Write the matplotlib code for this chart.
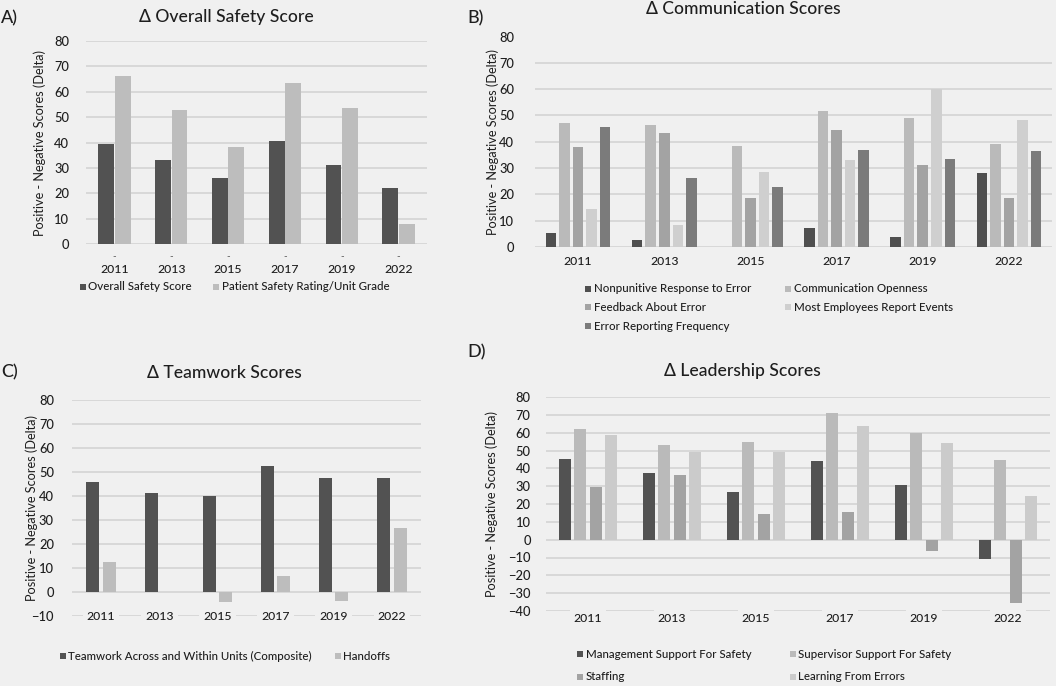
import numpy as np
import matplotlib
matplotlib.use('Agg')
import matplotlib.pyplot as plt
from matplotlib.patches import Rectangle
import matplotlib.transforms as mtransforms

plt.rcParams['font.family'] = ['Lato', 'DejaVu Sans']
plt.rcParams['font.weight'] = 'medium'

# Данные
years = ['2011', '2013', '2015', '2017', '2019', '2022']

overall_safety = [39.5, 33.3, 26.0, 40.7, 31.0, 21.9]
patient_rating = [66.4, 53.0, 38.3, 63.6, 53.4, 8.0]

nonpunitive = [5.3, 2.7, 0, 7.4, 3.7, 28.2]
comm_openness = [47.1, 46.3, 38.5, 51.8, 49.1, 39.2]
feedback_error = [38.1, 43.2, 18.8, 44.3, 31.0, 18.8]
most_report = [14.3, 8.5, 28.6, 32.9, 59.9, 48.3]
error_freq = [45.5, 26.3, 22.7, 36.8, 33.3, 36.4]

teamwork = [45.9, 41.4, 39.8, 52.7, 47.3, 47.7]
handoffs = [12.4, 0, -4.2, 6.7, -3.6, 26.6]

mgmt_support = [45.4, 37.4, 26.9, 44.3, 30.5, -10.7]
supervisor_support = [62.2, 52.9, 54.8, 71.0, 59.6, 44.9]
staffing = [29.3, 36.3, 14.2, 15.3, -6.2, -35.7]
learning_errors = [58.7, 49.0, 49.0, 63.9, 54.2, 24.7]

BG = '#f0f0f0'
GRID = '#d6d6d6'
TXT = '#1e1e1e'
YLABEL = 'Positive - Negative Scores (Delta)'
W, H = 1056, 686

fig = plt.figure(figsize=(W / 100, H / 100), dpi=100, facecolor=BG)


def px(x0, x1, y0, y1):
    # перевод пикселей в координаты фигуры
    return [x0 / W, 1 - y1 / H, (x1 - x0) / W, (y1 - y0) / H]


def draw_panel(rect, series, colors, ylim, yticks, width, pitch, year_y,
               tick_pad, ylab_x, label_bg=False):
    ax = fig.add_axes(rect)
    ax.set_facecolor(BG)
    x = np.arange(len(years))
    n = len(series)
    for i, (vals, c) in enumerate(zip(series, colors)):
        off = (i - (n - 1) / 2) * pitch
        ax.bar(x + off, vals, width=width, color=c, zorder=3)
    ax.set_xlim(-0.5, len(years) - 0.5)
    ax.set_ylim(*ylim)
    ax.set_yticks(yticks)
    ax.tick_params(axis='y', labelsize=9.3, length=0, pad=tick_pad, colors=TXT)
    ax.set_xticks([])
    for s in ax.spines.values():
        s.set_visible(False)
    for t in yticks:
        ax.axhline(t, color=GRID, lw=1.3, zorder=1)
    ax.set_ylabel(YLABEL, fontsize=9.2, color=TXT)
    # положение подписи оси в пикселях фигуры (правый край текста)
    bb = ax.get_position()
    ax.yaxis.set_label_coords(((ylab_x + 6) / W - bb.x0) / bb.width, 0.5)
    trans = mtransforms.blended_transform_factory(ax.transData, ax.transAxes)
    for xi, yr in zip(x, years):
        kw = {}
        if label_bg:
            kw['bbox'] = dict(facecolor=BG, edgecolor='none', pad=3)
        ax.text(xi, year_y, yr, transform=trans, ha='center', va='center',
                fontsize=8.8, color=TXT, zorder=5, **kw)
    return ax


def legend_items(names, colors, cols_x, rows_y):
    # легенда по строкам, как в Excel
    ncol = len(cols_x)
    for k, (name, c) in enumerate(zip(names, colors)):
        xx = cols_x[k % ncol]
        yy = rows_y[k // ncol]
        fig.patches.append(Rectangle((xx / W, 1 - (yy + 3) / H), 6 / W, 6 / H,
                                     transform=fig.transFigure, facecolor=c,
                                     edgecolor='none'))
        fig.text((xx + 8.5) / W, 1 - yy / H, name, ha='left', va='center',
                 fontsize=8.3, color=TXT)


def title(x, y, s):
    fig.text(x / W, 1 - y / H, s, ha='center', va='center', fontsize=12.6, color=TXT)


def tag(x, y, s):
    fig.text(x / W, 1 - y / H, s, ha='left', va='center', fontsize=13, color=TXT)


# A) Overall Safety
a_names = ['Overall Safety Score', 'Patient Safety Rating/Unit Grade']
a_colors = ['#525252', '#bdbdbd']
axA = draw_panel(px(86, 427, 41, 244), [overall_safety, patient_rating], a_colors,
                 (0, 80), range(0, 81, 10), 0.28, 0.29, -0.125, 12, 40)
for xi in range(len(years)):
    axA.text(xi, -5, '-', ha='center', va='center', fontsize=7, color='#555555')
legend_items(a_names, a_colors, [80, 213], [287])
title(226, 17, 'Δ Overall Safety Score')
tag(1, 18, 'A)')

# B) Communication
b_names = ['Nonpunitive Response to Error', 'Communication Openness', 'Feedback About Error',
           'Most Employees Report Events', 'Error Reporting Frequency']
b_colors = ['#4f4f4f', '#bababa', '#a3a3a3', '#cfcfcf', '#7b7b7b']
axB = draw_panel(px(535, 1052, 36.5, 247),
                 [nonpunitive, comm_openness, feedback_error, most_report, error_freq],
                 b_colors, (0, 80), range(0, 81, 10), 0.122, 0.157, -0.07, 15, 493)
legend_items(b_names, b_colors, [585, 785], [289, 307.5, 326])
title(743, 9, 'Δ Communication Scores')
tag(467, 18, 'B)')

# C) Teamwork
c_names = ['Teamwork Across and Within Units (Composite)', 'Handoffs']
c_colors = ['#525252', '#bdbdbd']
axC = draw_panel(px(72, 421, 400, 616), [teamwork, handoffs], c_colors,
                 (-10, 80), range(-10, 81, 10), 0.225, 0.28, 0.0, 13, 32, label_bg=True)
legend_items(c_names, c_colors, [60, 335], [656])
title(224, 373, 'Δ Teamwork Scores')
tag(1, 372, 'C)')

# D) Leadership
d_names = ['Management Support For Safety', 'Supervisor Support For Safety',
           'Staffing', 'Learning From Errors']
d_colors = ['#525252', '#bababa', '#a3a3a3', '#cbcbcb']
axD = draw_panel(px(546, 1050, 397, 611),
                 [mgmt_support, supervisor_support, staffing, learning_errors],
                 d_colors, (-40, 80), range(-40, 81, 10), 0.143, 0.179, -0.035, 11, 492,
                 label_bg=True)
legend_items(d_names, d_colors, [577, 790], [654, 677])
title(742, 371, 'Δ Leadership Scores')
tag(467, 352, 'D)')

fig.savefig('out.png', dpi=100, facecolor=BG)
